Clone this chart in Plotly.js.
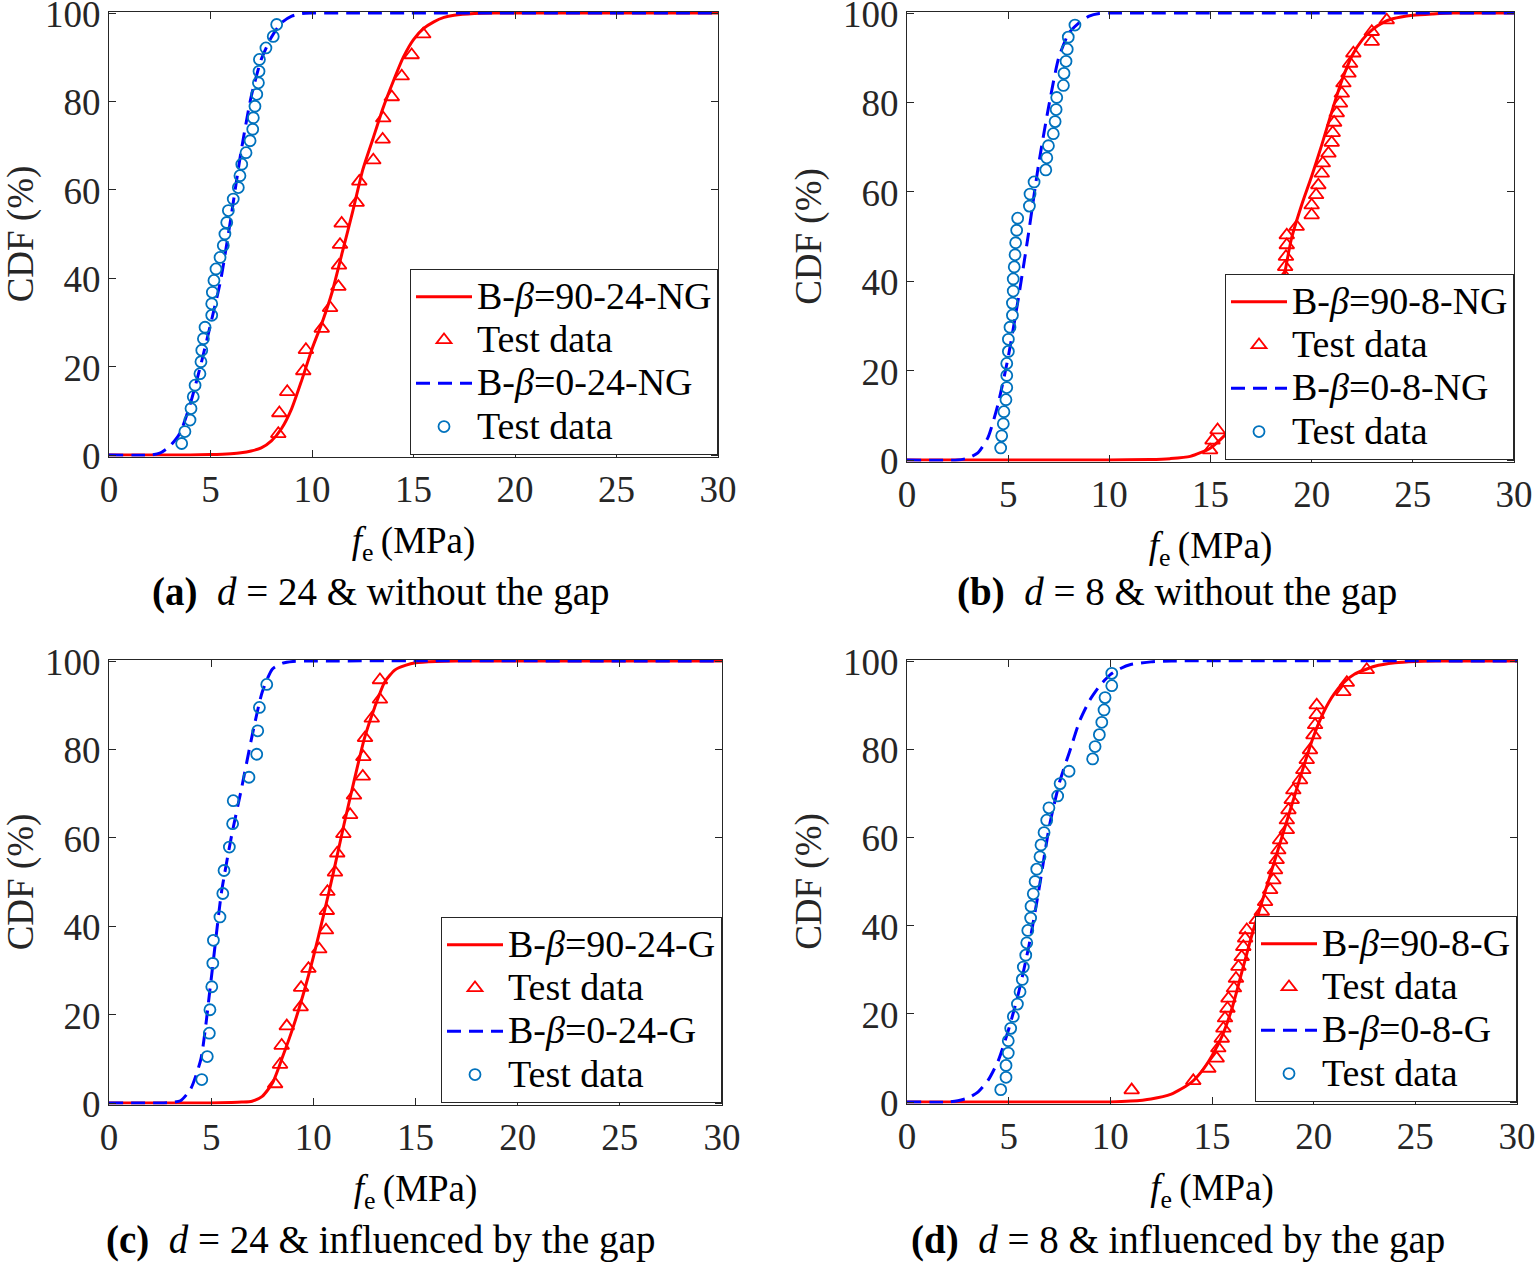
<!DOCTYPE html>
<html>
<head>
<meta charset="utf-8">
<script src="https://cdn.plot.ly/plotly-3.0.1.min.js"></script>
<style>body{margin:0;padding:0;background:#fff}#chart{width:1536px;height:1266px}</style>
</head>
<body>
<div id="chart"></div>
<script>
// ---------- Panel (a): d = 24, without the gap ----------
const aFitRedX  = [0, 4, 5, 6, 6.5, 7, 7.5, 8, 8.5, 9, 9.5, 10, 10.5, 11, 11.5, 12, 12.5, 13, 13.5, 14, 14.5, 15, 15.5, 16, 16.5, 17, 18, 19, 30];
const aFitRedY  = [0, 0, 0.1, 0.3, 0.5, 0.9, 1.6, 3.2, 6, 10.5, 17, 24, 30, 37, 46, 55, 64.5, 71.5, 78.5, 84.5, 90, 94, 96.5, 98, 99, 99.5, 99.9, 100, 100];
const aTestRedX = [8.34, 8.39, 8.78, 9.57, 9.70, 10.48, 10.89, 11.30, 11.33, 11.38, 11.46, 12.20, 12.33, 13.02, 13.48, 13.51, 13.93, 14.42, 14.91, 15.48];
const aTestRedY = [4.8, 9.5, 14.3, 19.0, 23.8, 28.6, 33.3, 38.1, 42.9, 47.6, 52.4, 57.1, 61.9, 66.7, 71.4, 76.2, 81.0, 85.7, 90.5, 95.2];
const aFitBlueX = [0, 2, 2.5, 3, 3.5, 4, 4.5, 5, 5.5, 6, 6.5, 7, 7.5, 8, 8.5, 9, 9.5, 10, 12, 30];
const aFitBlueY = [0, 0, 0.4, 2, 5, 11.5, 20, 29.5, 39.5, 53.5, 68.5, 81, 89.5, 94.5, 97.8, 99.3, 99.9, 100, 100, 100];
const aTestBlueX = [3.58, 3.74, 3.99, 4.04, 4.15, 4.24, 4.48, 4.53, 4.57, 4.65, 4.73, 5.06, 5.06, 5.09, 5.17, 5.27, 5.47, 5.63, 5.71, 5.80, 5.88, 6.12, 6.37, 6.45, 6.54, 6.75, 6.95, 7.08, 7.11, 7.19, 7.28, 7.36, 7.39, 7.41, 7.73, 8.09, 8.26];
const aTestBlueY = [2.6, 5.3, 7.9, 10.5, 13.2, 15.8, 18.4, 21.1, 23.7, 26.3, 28.9, 31.6, 34.2, 36.8, 39.5, 42.1, 44.7, 47.4, 50.0, 52.6, 55.3, 57.9, 60.5, 63.2, 65.8, 68.4, 71.1, 73.7, 76.3, 78.9, 81.6, 84.2, 86.8, 89.5, 92.1, 94.7, 97.4];

// ---------- Panel (b): d = 8, without the gap ----------
const bFitRedX  = [0, 10, 12, 13, 14, 15, 16, 17, 18, 18.5, 19, 19.5, 20, 20.5, 21, 21.5, 22, 22.5, 23, 23.5, 24, 25, 26, 27, 30];
const bFitRedY  = [0, 0, 0.1, 0.3, 0.8, 2.7, 7, 16, 30, 38, 49.5, 57, 63.5, 70.5, 78, 85, 90.5, 94, 96.3, 97.8, 98.7, 99.5, 99.8, 100, 100];
const bTestRedX = [14.98, 15.10, 15.35, 18.69, 18.69, 18.73, 18.77, 18.77, 19.26, 20.00, 20.00, 20.22, 20.33, 20.50, 20.55, 20.83, 20.99, 21.04, 21.11, 21.24, 21.40, 21.49, 21.57, 21.82, 21.90, 22.06, 22.97, 22.97, 23.71];
const bTestRedY = [2.2, 4.4, 6.7, 41.0, 43.2, 45.5, 48.1, 50.3, 52.2, 54.8, 57.0, 59.3, 61.5, 64.1, 66.4, 68.6, 71.0, 73.2, 75.5, 77.6, 79.8, 82.0, 84.3, 86.5, 88.7, 91.0, 93.6, 95.8, 98.4];
const bFitBlueX = [0, 2.5, 3, 3.5, 4, 4.5, 5, 5.5, 6, 6.5, 7, 7.5, 8, 8.5, 9, 9.5, 10, 12, 30];
const bFitBlueY = [0, 0, 0.4, 1.6, 5, 12.5, 23, 36, 50.5, 66, 79, 90, 95.5, 97.8, 99.3, 99.9, 100, 100, 100];
const bTestBlueX = [4.63, 4.68, 4.76, 4.79, 4.89, 4.93, 4.93, 4.93, 5.01, 5.01, 5.09, 5.21, 5.21, 5.25, 5.25, 5.30, 5.34, 5.37, 5.42, 5.47, 6.05, 6.08, 6.28, 6.86, 6.91, 6.99, 7.23, 7.32, 7.37, 7.40, 7.73, 7.76, 7.86, 7.92, 7.97, 8.30];
const bTestBlueY = [2.7, 5.4, 8.1, 10.8, 13.5, 16.2, 18.9, 21.6, 24.3, 27.0, 29.7, 32.4, 35.1, 37.8, 40.5, 43.2, 45.9, 48.6, 51.4, 54.1, 56.8, 59.5, 62.2, 64.9, 67.6, 70.3, 73.0, 75.7, 78.4, 81.1, 83.8, 86.5, 89.2, 91.9, 94.6, 97.3];

// ---------- Panel (c): d = 24, influenced by the gap ----------
const cFitRedX  = [0, 5, 6, 6.5, 7, 7.5, 8, 8.5, 9, 9.5, 10, 10.5, 11, 11.5, 12, 12.5, 13, 13.5, 14, 14.5, 15, 16, 17, 30];
const cFitRedY  = [0, 0, 0.1, 0.2, 0.4, 1.5, 4.5, 10.5, 17, 24.5, 33, 42.5, 52.5, 63, 73, 82.5, 89.5, 95.3, 98, 99, 99.6, 99.9, 100, 100];
const cTestRedX = [8.13, 8.37, 8.45, 8.70, 9.38, 9.40, 9.76, 10.29, 10.62, 10.66, 10.69, 11.06, 11.17, 11.47, 11.80, 11.99, 12.42, 12.45, 12.53, 12.86, 13.26, 13.26];
const cTestRedY = [4.3, 8.7, 13.0, 17.4, 21.7, 26.1, 30.4, 34.8, 39.1, 43.5, 47.8, 52.2, 56.5, 60.9, 65.2, 69.6, 73.9, 78.3, 82.6, 87.0, 91.3, 95.7];
const cFitBlueX = [0, 2.5, 3, 3.5, 4, 4.5, 5, 5.5, 6, 6.5, 7, 7.5, 8, 8.5, 9, 10, 30];
const cFitBlueY = [0, 0, 0.1, 0.5, 3.2, 10, 28, 47.5, 60.5, 71.5, 83, 93, 98.2, 99.5, 99.9, 100, 100];
const cTestBlueX = [4.54, 4.81, 4.91, 4.94, 5.03, 5.08, 5.11, 5.43, 5.57, 5.63, 5.89, 6.05, 6.08, 6.85, 7.23, 7.28, 7.36, 7.72];
const cTestBlueY = [5.3, 10.5, 15.8, 21.1, 26.3, 31.6, 36.8, 42.1, 47.4, 52.6, 57.9, 63.2, 68.4, 73.7, 78.9, 84.2, 89.5, 94.7];

// ---------- Panel (d): d = 8, influenced by the gap ----------
const dFitRedX  = [0, 10, 11, 12, 13, 13.5, 14, 14.5, 15, 15.5, 16, 16.5, 17, 17.5, 18, 18.5, 19, 19.5, 20, 20.5, 21, 21.5, 22, 23, 24, 25, 26, 30];
const dFitRedY  = [0, 0, 0.2, 0.7, 1.8, 3, 4.5, 7, 10.5, 15, 21.5, 30, 38.5, 46, 53.5, 61, 68.5, 76, 83, 88.5, 92.5, 95.2, 97, 98.8, 99.6, 99.9, 100, 100];
const dTestRedX = [11.05, 14.08, 14.82, 15.23, 15.31, 15.48, 15.56, 15.64, 15.76, 15.81, 16.08, 16.18, 16.30, 16.46, 16.54, 16.63, 16.71, 17.20, 17.45, 17.61, 17.86, 18.02, 18.10, 18.18, 18.26, 18.35, 18.68, 18.68, 18.76, 18.92, 19.00, 19.33, 19.49, 19.66, 19.82, 19.99, 20.07, 20.15, 20.15, 21.46, 21.63, 22.61];
const dTestRedY = [2.7, 4.8, 7.6, 9.9, 12.2, 14.4, 16.7, 19.0, 21.2, 23.5, 25.8, 28.0, 30.7, 32.9, 35.2, 37.1, 39.0, 41.3, 43.2, 45.4, 48.1, 50.3, 52.6, 54.9, 57.1, 59.4, 61.7, 63.9, 66.2, 68.5, 70.7, 73.0, 75.3, 77.6, 79.8, 83.2, 85.5, 87.8, 90.0, 93.0, 95.1, 98.0];
const dFitBlueX = [0, 2, 2.5, 3, 3.5, 4, 4.5, 5, 5.5, 6, 6.5, 7, 7.5, 8, 8.5, 9, 9.5, 10, 10.5, 11, 12, 13, 30];
const dFitBlueY = [0, 0, 0.3, 0.9, 2.3, 5, 9.5, 16.5, 25, 35.5, 48.5, 62.5, 72.5, 79.5, 86.5, 91.2, 94.5, 96.9, 98.3, 99.2, 99.8, 100, 100];
const dTestBlueX = [4.61, 4.87, 4.87, 4.98, 4.98, 5.10, 5.23, 5.43, 5.56, 5.67, 5.72, 5.84, 5.89, 5.94, 6.08, 6.10, 6.21, 6.30, 6.38, 6.54, 6.59, 6.74, 6.87, 6.98, 7.41, 7.53, 7.97, 9.13, 9.25, 9.46, 9.58, 9.69, 9.74, 10.07, 10.07];
const dTestBlueY = [2.8, 5.6, 8.3, 11.1, 13.9, 16.7, 19.4, 22.2, 25.0, 27.8, 30.6, 33.3, 36.1, 38.9, 41.7, 44.4, 47.2, 50.0, 52.8, 55.6, 58.3, 61.1, 63.9, 66.7, 69.4, 72.2, 75.0, 77.8, 80.6, 83.3, 86.1, 88.9, 91.7, 94.4, 97.2];

// ---------- Labels ----------
const xTickVals = [0, 5, 10, 15, 20, 25, 30];
const yTickVals = [0, 20, 40, 60, 80, 100];
const redNames  = ['B-<i>β</i>=90-24-NG', 'B-<i>β</i>=90-8-NG', 'B-<i>β</i>=90-24-G', 'B-<i>β</i>=90-8-G'];
const blueNames = ['B-<i>β</i>=0-24-NG', 'B-<i>β</i>=0-8-NG', 'B-<i>β</i>=0-24-G', 'B-<i>β</i>=0-8-G'];
const testName  = 'Test data';
const captions  = [
  '<b>(a)</b>\u00a0\u00a0<i>d</i> = 24 &amp; without the gap',
  '<b>(b)</b>\u00a0\u00a0<i>d</i> = 8 &amp; without the gap',
  '<b>(c)</b>\u00a0\u00a0<i>d</i> = 24 &amp; influenced by the gap',
  '<b>(d)</b>\u00a0\u00a0<i>d</i> = 8 &amp; influenced by the gap'
];
const xTitle = '<i>f</i><sub>e</sub>\u2009(MPa)';
const yTitle = 'CDF (%)';

// ---------- Build ----------
const FONT = 'Liberation Serif, Times New Roman, serif';
const AXC = '#262626';
const W = 1536, H = 1266;
const LEG_TXT = 38;       // rendered legend text size
const PAD = 1.5;          // px of padding so the 0/100 lines are not half clipped
// plot boxes in px: [left, right, top, bottom]
const boxes = [[109, 718, 13, 455], [907, 1514, 13, 460], [109, 722, 661, 1103], [907, 1517, 661, 1102]];
const capPos = [[380, 592], [1177, 592], [380, 1240], [1178, 1240]];
const panels = [
  [aFitRedX, aFitRedY, aTestRedX, aTestRedY, aFitBlueX, aFitBlueY, aTestBlueX, aTestBlueY],
  [bFitRedX, bFitRedY, bTestRedX, bTestRedY, bFitBlueX, bFitBlueY, bTestBlueX, bTestBlueY],
  [cFitRedX, cFitRedY, cTestRedX, cTestRedY, cFitBlueX, cFitBlueY, cTestBlueX, cTestBlueY],
  [dFitRedX, dFitRedY, dTestRedX, dTestRedY, dFitBlueX, dFitBlueY, dTestBlueX, dTestBlueY]
];
const big = s => '<span style="font-size:' + LEG_TXT + 'px">' + s + '</span>';

const traces = [];
const layout = {
  width: W, height: H,
  margin: {l: 0, r: 0, t: 0, b: 0},
  paper_bgcolor: '#fff', plot_bgcolor: '#fff',
  font: {family: FONT, color: '#000'},
  showlegend: true,
  annotations: []
};

panels.forEach((p, i) => {
  const n = i === 0 ? '' : String(i + 1);
  const xa = 'x' + n, ya = 'y' + n;
  const lg = 'legend' + n;
  const b = boxes[i];
  const ppu = (b[3] - b[2]) / 100;
  const common = {xaxis: xa, yaxis: ya, legend: lg};
  traces.push(Object.assign({
    x: p[0], y: p[1], mode: 'lines', name: big(redNames[i]), legendgroup: 'r' + i,
    line: {color: '#FF0000', width: 3, shape: 'spline', smoothing: 0.6}
  }, common));
  traces.push(Object.assign({
    x: p[2], y: p[3], mode: 'markers', name: big(testName), legendgroup: 'rt' + i,
    marker: {symbol: 'triangle-up-open', size: 13, color: '#FF0000', line: {width: 1.8, color: '#FF0000'}}
  }, common));
  traces.push(Object.assign({
    x: p[4], y: p[5], mode: 'lines', name: big(blueNames[i]), legendgroup: 'b' + i,
    line: {color: '#0000FF', width: 3, dash: '14px,8px', shape: 'spline', smoothing: 0.6}
  }, common));
  traces.push(Object.assign({
    x: p[6], y: p[7], mode: 'markers', name: big(testName), legendgroup: 'bt' + i,
    marker: {symbol: 'circle-open', size: 11, color: '#0072BD', line: {width: 1.8, color: '#0072BD'}}
  }, common));

  const axBase = {
    showline: true, mirror: 'ticks', linecolor: AXC, linewidth: 1,
    ticks: 'inside', ticklen: 7, tickwidth: 1, tickcolor: AXC,
    showgrid: false, zeroline: false, fixedrange: true,
    ticklabeloverflow: 'allow',
    tickfont: {family: FONT, size: 37, color: AXC}
  };
  layout['xaxis' + n] = Object.assign({}, axBase, {
    domain: [b[0] / W, b[1] / W], anchor: ya,
    range: [0, 30], tickvals: xTickVals, ticktext: xTickVals.map(String),
    title: {text: xTitle, font: {family: FONT, size: 37, color: '#000'}, standoff: 18}
  });
  layout['yaxis' + n] = Object.assign({}, axBase, {
    domain: [1 - (b[3] + PAD) / H, 1 - (b[2] - PAD) / H], anchor: xa,
    range: [-PAD / ppu, 100 + PAD / ppu], tickvals: yTickVals, ticktext: yTickVals.map(String),
    ticklabelshift: 1,
    title: {text: yTitle, font: {family: FONT, size: 37, color: AXC}, standoff: 10}
  });
  layout[lg] = {
    x: b[1] / W, y: 1 - b[3] / H, xanchor: 'right', yanchor: 'bottom',
    xref: 'paper', yref: 'paper',
    bgcolor: '#fff', bordercolor: AXC, borderwidth: 1,
    font: {family: FONT, size: 31, color: '#000'},
    traceorder: 'grouped', tracegroupgap: 0, itemwidth: 56,
    itemclick: false, itemdoubleclick: false
  };
  layout.annotations.push({
    xref: 'paper', yref: 'paper', x: capPos[i][0] / W, y: 1 - capPos[i][1] / H,
    xanchor: 'center', yanchor: 'middle', showarrow: false,
    text: captions[i], font: {family: FONT, size: 39, color: '#000'}
  });
});

Plotly.newPlot('chart', traces, layout, {staticPlot: true, displayModeBar: false});
</script>
</body>
</html>
